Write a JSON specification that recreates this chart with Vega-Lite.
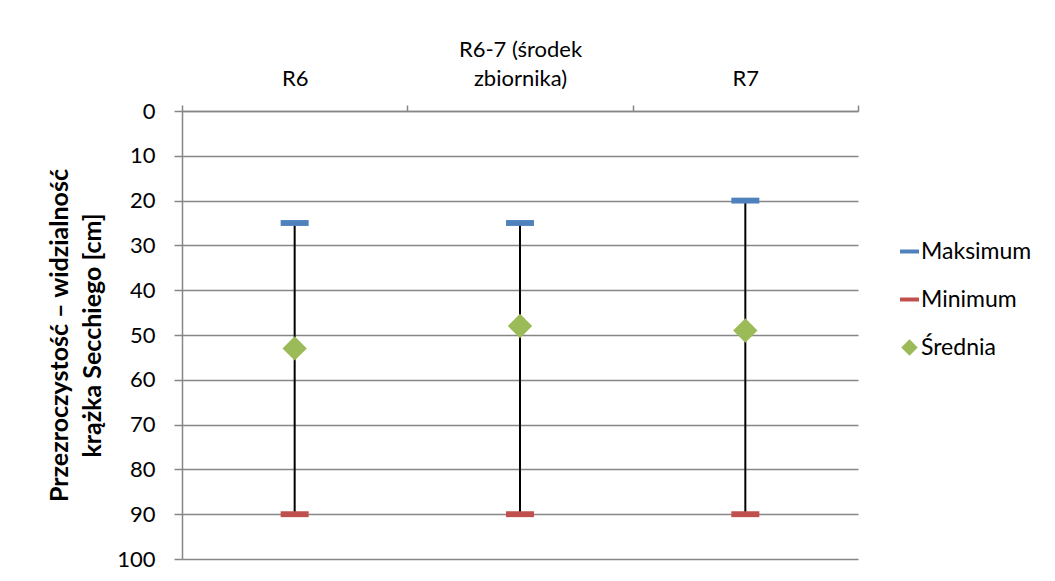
{
  "$schema": "https://vega.github.io/schema/vega-lite/v6.json",
  "autosize": {"type": "none"},
  "padding": {"left": 182, "top": 111, "right": 197, "bottom": 22},
  "width": 676,
  "height": 448,
  "background": "white",
  "config": {
    "font": "Lato",
    "view": {"stroke": null},
    "axis": {"labelFont": "Lato", "titleFont": "Lato", "labelColor": "black", "titleColor": "black", "domainColor": "#868686", "tickColor": "#868686", "gridColor": "#868686", "domainWidth": 1.5, "tickWidth": 1.5, "gridWidth": 1.5},
    "legend": {"labelFont": "Lato", "labelColor": "black"}
  },
  "data": {
    "values": [
      {"cat": "R6", "Maksimum": 25, "Minimum": 90, "Średnia": 53},
      {"cat": "R6-7 (środek zbiornika)", "Maksimum": 25, "Minimum": 90, "Średnia": 48},
      {"cat": "R7", "Maksimum": 20, "Minimum": 90, "Średnia": 49}
    ]
  },
  "encoding": {
    "x": {
      "field": "cat", "type": "nominal",
      "sort": ["R6", "R6-7 (środek zbiornika)", "R7"],
      "scale": {"paddingInner": 0, "paddingOuter": 0},
      "axis": {
        "orient": "top", "title": null, "labelAngle": 0, "tickBand": "extent",
        "tickSize": 6, "labelFontSize": 22, "labelLineHeight": 29,
        "labelPadding": {"condition": {"test": "datum.value == 'R6-7 (środek zbiornika)'", "value": 44}, "value": 15},
        "labelExpr": "datum.value == 'R6-7 (środek zbiornika)' ? ['R6-7 (środek', 'zbiornika)'] : datum.value"
      }
    }
  },
  "layer": [
    {
      "mark": {"type": "rule", "color": "black", "strokeWidth": 2},
      "encoding": {
        "y": {
          "field": "Maksimum", "type": "quantitative",
          "scale": {"domain": [0, 100], "reverse": true, "nice": false},
          "axis": {
            "values": [0, 10, 20, 30, 40, 50, 60, 70, 80, 90, 100],
            "grid": true, "tickSize": 8, "labelPadding": 19, "labelFontSize": 22,
            "title": ["Przezroczystość – widzialność", "krążka Secchiego [cm]"],
            "titleFontSize": 25, "titleFontWeight": "bold", "titlePadding": 11, "titleLineHeight": 33
          }
        },
        "y2": {"field": "Minimum"}
      }
    },
    {
      "transform": [{"fold": ["Maksimum", "Minimum", "Średnia"], "as": ["series", "value"]}],
      "mark": {"type": "point", "filled": true, "opacity": 1, "size": 784},
      "encoding": {
        "y": {"field": "value", "type": "quantitative"},
        "color": {
          "field": "series", "type": "nominal",
          "scale": {"domain": ["Maksimum", "Minimum", "Średnia"], "range": ["#4F81BD", "#C0504D", "#9BBB59"]},
          "legend": {
            "title": null, "orient": "none", "legendX": 716, "legendY": 129,
            "symbolSize": 360, "labelFontSize": 23, "rowPadding": 24, "labelOffset": 0
          }
        },
        "shape": {
          "field": "series", "type": "nominal",
          "scale": {"domain": ["Maksimum", "Minimum", "Średnia"], "range": ["M-1,-0.21L1,-0.21L1,0.21L-1,0.21Z", "M-1,-0.21L1,-0.21L1,0.21L-1,0.21Z", "M-0.87,0L0,-0.87L0.87,0L0,0.87Z"]},
          "legend": {
            "title": null, "orient": "none", "legendX": 716, "legendY": 129,
            "symbolSize": 360, "labelFontSize": 23, "rowPadding": 24, "labelOffset": 0
          }
        }
      }
    }
  ]
}
